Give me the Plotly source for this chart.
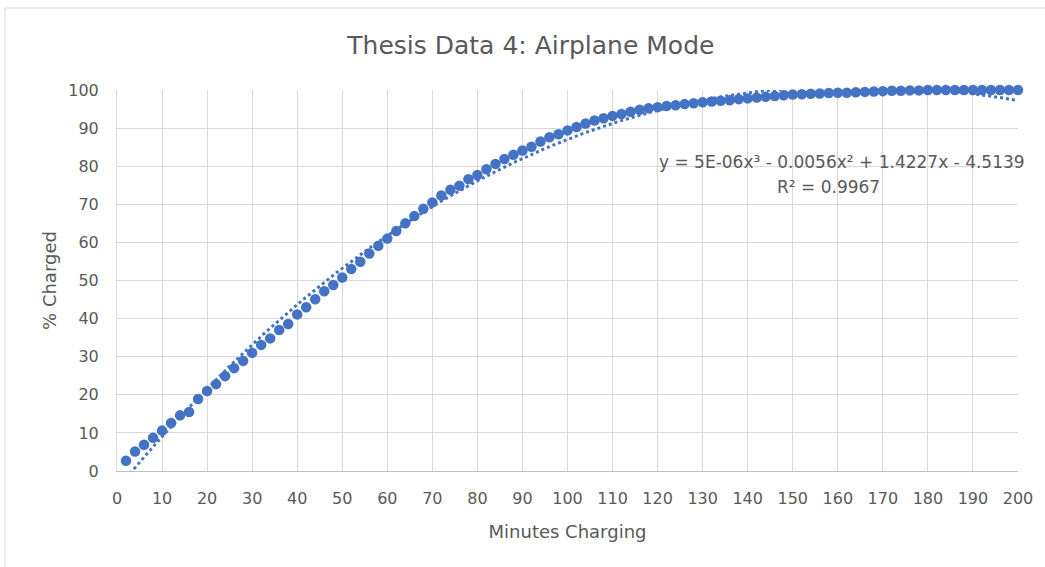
import plotly.graph_objects as go
import numpy as np

minutes = list(range(2, 202, 2))
charged = [
    2.7, 5.1, 6.9, 8.7, 10.6, 12.6, 14.6, 15.5, 18.9, 21.0,
    22.8, 24.9, 27.0, 28.9, 31.0, 33.1, 34.8, 37.0, 38.6, 41.1,
    43.0, 45.1, 47.2, 48.8, 50.8, 53.0, 54.9, 57.1, 59.1, 61.0,
    63.0, 65.0, 66.9, 68.8, 70.5, 72.3, 73.8, 74.9, 76.6, 77.7,
    79.2, 80.6, 81.9, 83.0, 84.1, 85.1, 86.5, 87.6, 88.4, 89.4,
    90.3, 91.2, 92.0, 92.6, 93.2, 93.7, 94.3, 94.8, 95.2, 95.5,
    95.8, 96.0, 96.3, 96.5, 96.8, 97.0, 97.2, 97.3, 97.6, 97.8,
    98.0, 98.2, 98.4, 98.6, 98.8, 98.9, 99.0, 99.1, 99.2, 99.3,
    99.3, 99.4, 99.5, 99.6, 99.7, 99.8, 99.8, 99.9, 99.9, 100.0,
    100.0, 100.0, 100.0, 100.0, 100.0, 100.0, 100.0, 100.0, 100.0, 100.0,
]
x_ticks = list(range(0, 201, 10))
y_ticks = list(range(0, 101, 10))

title_text = "Thesis Data 4: Airplane Mode"
eq_text = "y = 5E-06x³ - 0.0056x² + 1.4227x - 4.5139"
r2_text = "R² = 0.9967"

BLUE = "#4472C4"
GREY_TXT = "#595959"
GRID = "#d9d9d9"
FONT = "DejaVu Sans"

# Polynomial (order 3) trendline fitted to the data, as the spreadsheet does
coef = np.polyfit(minutes, charged, 3)
tx = np.linspace(min(minutes), max(minutes), 400)
ty = np.polyval(coef, tx)

fig = go.Figure()
fig.add_trace(go.Scatter(
    x=tx, y=ty, mode="lines",
    line=dict(color=BLUE, width=3, dash="dot"),
    hoverinfo="skip", showlegend=False,
))
fig.add_trace(go.Scatter(
    x=minutes, y=charged, mode="markers",
    marker=dict(color=BLUE, size=10.5, line=dict(width=0)),
    cliponaxis=False, showlegend=False,
))

fig.update_layout(
    width=1045, height=567,
    paper_bgcolor="white", plot_bgcolor="white",
    margin=dict(l=117, r=27, t=90, b=96),
    font=dict(family=FONT, color=GREY_TXT),
    title=dict(text=title_text, x=0.508, xanchor="center", xref="container",
               y=0.92, yanchor="middle", yref="container",
               font=dict(size=25, color=GREY_TXT, family=FONT)),
    showlegend=False,
)
fig.update_xaxes(
    range=[0, 200], tickvals=x_ticks, ticktext=[str(v) for v in x_ticks],
    showgrid=True, gridcolor=GRID, gridwidth=1,
    zeroline=False, showline=True, linecolor="#bfbfbf", linewidth=1,
    ticks="", ticklabelstandoff=13,
    tickfont=dict(size=16, color=GREY_TXT, family=FONT),
    title=dict(text="Minutes Charging", font=dict(size=18, color=GREY_TXT, family=FONT), standoff=18),
)
fig.update_yaxes(
    range=[0, 100], tickvals=y_ticks, ticktext=[str(v) for v in y_ticks],
    showgrid=True, gridcolor=GRID, gridwidth=1,
    zeroline=False, showline=True, linecolor=GRID, linewidth=1,
    ticks="", ticklabelstandoff=14,
    tickfont=dict(size=16, color=GREY_TXT, family=FONT),
    title=dict(text="% Charged", font=dict(size=18, color=GREY_TXT, family=FONT), standoff=6),
)

fig.add_annotation(text=eq_text, xref="paper", yref="paper",
                   x=(842 - 117) / 901, y=(471 - 162) / 381,
                   xanchor="center", yanchor="middle", showarrow=False,
                   font=dict(size=17, color=GREY_TXT, family=FONT))
fig.add_annotation(text=r2_text, xref="paper", yref="paper",
                   x=(828 - 117) / 901, y=(471 - 187) / 381,
                   xanchor="center", yanchor="middle", showarrow=False,
                   font=dict(size=17, color=GREY_TXT, family=FONT))

# outer chart frame
fig.add_shape(type="rect", xref="paper", yref="paper",
              x0=(5 - 117) / 901, x1=1.2, y0=-0.5, y1=1 + (90 - 8) / 381,
              line=dict(color="#d9d9d9", width=1), fillcolor="rgba(0,0,0,0)", layer="below")

fig.write_html("out.html")
